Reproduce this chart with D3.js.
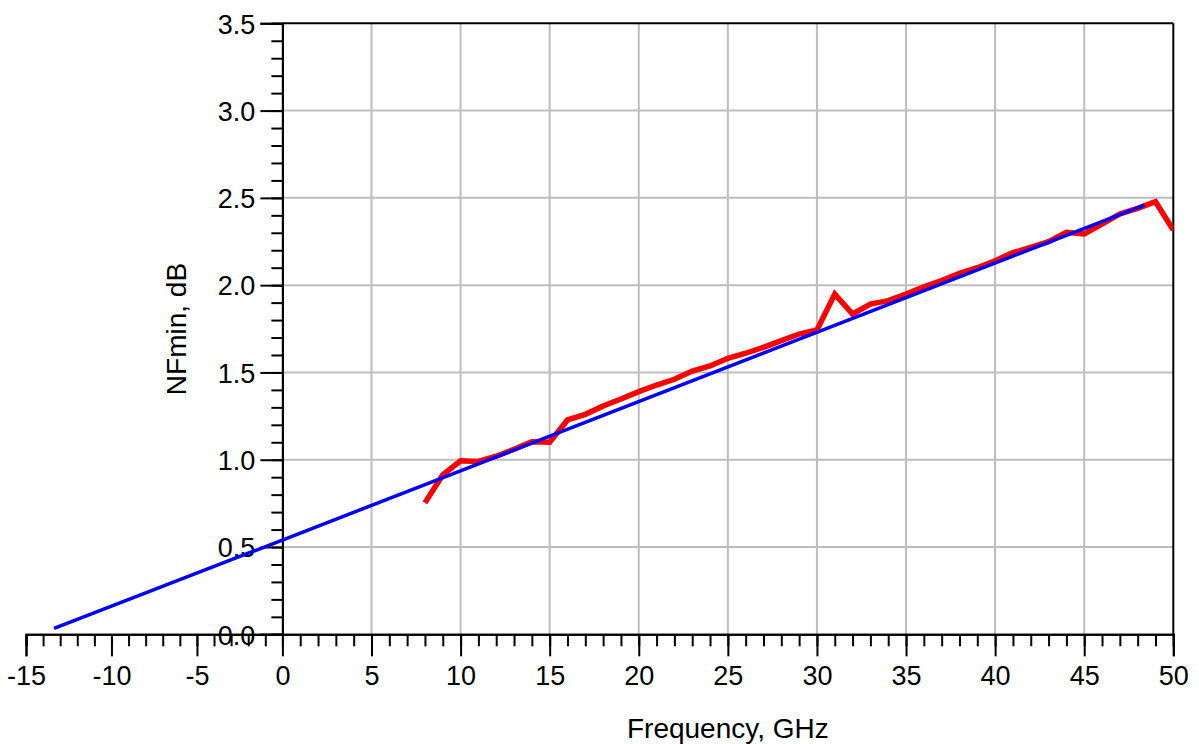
<!DOCTYPE html>
<html>
<head>
<meta charset="utf-8">
<script src="https://cdn.jsdelivr.net/npm/d3@7"></script>
<style>
  html, body { margin: 0; padding: 0; background: #fff; }
  svg { display: block; font-family: "Liberation Sans", Arial, sans-serif; }
</style>
</head>
<body>
<svg id="chart" width="1199" height="744"></svg>
<script>
// Measured NFmin (red)
const freqGHz = [8,9,10,11,12,13,14,15,16,17,18,19,20,21,22,23,24,25,26,27,28,29,30,31,32,33,34,35,36,37,38,39,40,41,42,43,44,45,46,47,48,49,50];
const nfMin   = [0.754,0.913,0.994,0.99,1.02,1.06,1.103,1.10,1.228,1.26,1.308,1.348,1.39,1.428,1.461,1.508,1.537,1.581,1.61,1.644,1.682,1.72,1.743,1.949,1.835,1.892,1.911,1.949,1.991,2.026,2.068,2.10,2.14,2.186,2.217,2.249,2.303,2.293,2.35,2.408,2.44,2.478,2.316];
// Linear fit (blue)
const fitX = [-13.36, 0, 48.38];
const fitY = [0.034, 0.54, 2.459];
// Axes
const xMajorTicks = [-15,-10,-5,0,5,10,15,20,25,30,35,40,45,50];
const yMajorTicks = [0,0.5,1.0,1.5,2.0,2.5,3.0,3.5];
const xGridTicks = [5,10,15,20,25,30,35,40,45];
const yGridTicks = [0.5,1.0,1.5,2.0,2.5,3.0];
const xLabel = "Frequency, GHz";
const yLabel = "NFmin, dB";

const svg = d3.select("#chart");
const x = d3.scaleLinear().domain([-15, 0, 50]).range([26, 282.4, 1173.3]);
const y = d3.scaleLinear().domain([0, 3.5]).range([634.3, 23.3]);

const xMinor = d3.range(-15, 51, 1);
const yMinor = d3.range(0, 36, 1).map(d => d / 10);

// grid
const grid = svg.append("g").attr("stroke", "#bdbdbd").attr("stroke-width", 2);
grid.selectAll("line.v").data(xGridTicks).join("line")
  .attr("x1", d => x(d)).attr("x2", d => x(d))
  .attr("y1", y(0)).attr("y2", y(3.5));
grid.selectAll("line.h").data(yGridTicks).join("line")
  .attr("x1", x(0)).attr("x2", x(50))
  .attr("y1", d => y(d)).attr("y2", d => y(d));

// border top and right
svg.append("line").attr("x1", x(0)).attr("x2", x(50)).attr("y1", y(3.5)).attr("y2", y(3.5))
  .attr("stroke", "#000").attr("stroke-width", 2);
svg.append("line").attr("x1", x(50)).attr("x2", x(50)).attr("y1", y(3.5)).attr("y2", y(0))
  .attr("stroke", "#000").attr("stroke-width", 2);

// clip
svg.append("clipPath").attr("id", "clip").append("rect")
  .attr("x", x(-15)).attr("y", y(3.5)).attr("width", x(50) - x(-15)).attr("height", y(0) - y(3.5));

const fmtX = d => String(d);
const fmtY = d => d.toFixed(1);

// x axis
const gx = svg.append("g").attr("transform", `translate(0,${y(0)})`);
gx.append("g").call(d3.axisBottom(x).tickValues(xMinor).tickSize(12).tickFormat(""));
gx.append("g").call(d3.axisBottom(x).tickValues(xMajorTicks).tickSize(22).tickFormat(fmtX));
gx.selectAll(".domain").attr("stroke-width", 2).attr("stroke", "#000");
gx.selectAll(".tick line").attr("stroke-width", 2).attr("stroke", "#000");
gx.selectAll(".tick text").attr("y", 51).attr("dy", 0)
  .attr("font-size", 27).attr("fill", "#000")
  .attr("font-family", "'Liberation Sans', Arial, sans-serif");

// y axis
const gy = svg.append("g").attr("transform", `translate(${x(0)},0)`);
gy.append("g").call(d3.axisLeft(y).tickValues(yMinor).tickSize(11).tickFormat(""));
gy.append("g").call(d3.axisLeft(y).tickValues(yMajorTicks).tickSize(22).tickFormat(fmtY));
gy.selectAll(".domain").attr("stroke-width", 2).attr("stroke", "#000");
gy.selectAll(".tick line").attr("stroke-width", 2).attr("stroke", "#000");
gy.selectAll(".tick text").attr("x", -27).attr("dy", "0.36em")
  .attr("font-size", 27).attr("fill", "#000")
  .attr("font-family", "'Liberation Sans', Arial, sans-serif");

// lines
const plot = svg.append("g").attr("clip-path", "url(#clip)");
plot.append("path")
  .datum(freqGHz.map((f, i) => [f, nfMin[i]]))
  .attr("fill", "none").attr("stroke", "#ff0000").attr("stroke-width", 5.5)
  .attr("stroke-linejoin", "miter")
  .attr("d", d3.line().x(d => x(d[0])).y(d => y(d[1])));
plot.append("path")
  .datum(fitX.map((f, i) => [f, fitY[i]]))
  .attr("fill", "none").attr("stroke", "#0000ff").attr("stroke-width", 3.5)
  .attr("d", d3.line().x(d => x(d[0])).y(d => y(d[1])));

// titles
svg.append("text").attr("x", (x(0) + x(50)) / 2).attr("y", 738)
  .attr("text-anchor", "middle").attr("font-size", 28).attr("fill", "#000").text(xLabel);
svg.append("text").attr("transform", `translate(186,329) rotate(-90)`)
  .attr("text-anchor", "middle").attr("font-size", 28).attr("fill", "#000").text(yLabel);
</script>
</body>
</html>
